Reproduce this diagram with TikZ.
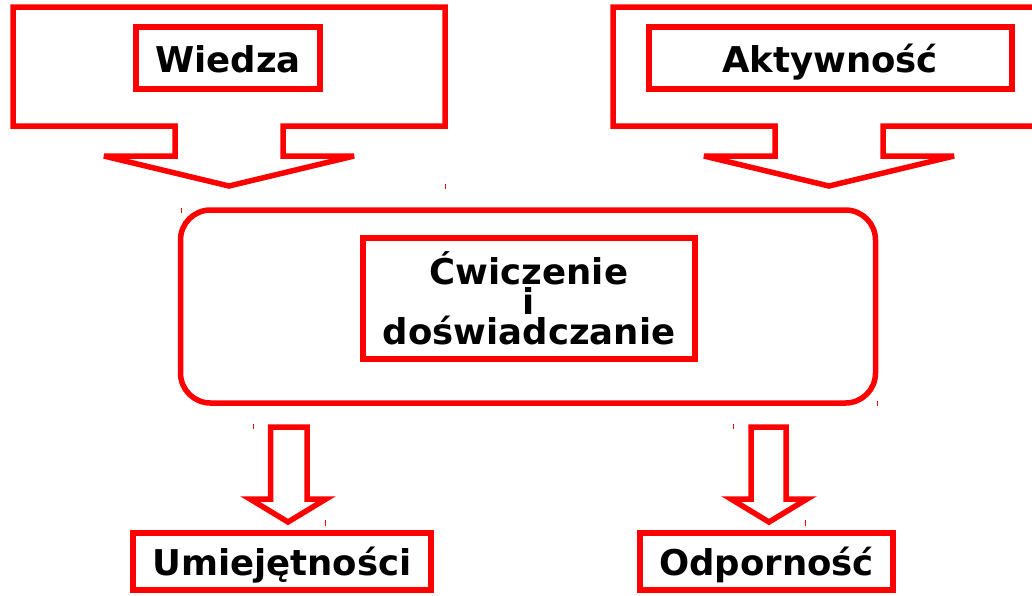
\documentclass[tikz,border=0pt]{standalone}
\usepackage{fontspec}
\setmainfont{DejaVu Sans}
\begin{document}
\begin{tikzpicture}[x=1pt,y=-1pt,
  red line/.style={draw=red, line width=5.5pt},
  box/.style={red line, rectangle, inner sep=0pt},
  lbl/.style={font=\bfseries\fontsize{35.5}{30}\selectfont, inner sep=0pt, text=black},
  tick/.style={draw=red, line width=1pt}]
\useasboundingbox (0,0) rectangle (1032,595);
\begin{scope}
\clip (0,0) rectangle (1032,595);
% top-left callout
\draw[red line, miter limit=5] (13,7) -- (445,7) -- (445,126) -- (283,126) -- (283,156) -- (354,156)
  -- (229,186) -- (104,156) -- (175,156) -- (175,126) -- (13,126) -- cycle;
% top-right callout (cut by the right edge)
\draw[red line, miter limit=5] (613,7) -- (1045,7) -- (1045,126) -- (883,126) -- (883,156) -- (954,156)
  -- (829,186) -- (704,156) -- (775,156) -- (775,126) -- (613,126) -- cycle;
\end{scope}

\node[box, minimum width=184pt, minimum height=62pt] (wiedzabox) at (228,58) {};
\node[lbl, anchor=base] (wiedza) at (228,72.5) {Wiedza};
\node[box, minimum width=363pt, minimum height=62pt] (aktbox) at (830.5,58) {};
\node[lbl, anchor=base] (akt) at (830,72.5) {Aktywność};

% central rounded box
\node[red line, rectangle, rounded corners=30pt, minimum width=695pt, minimum height=193pt, inner sep=0pt] (mid) at (528,306.5) {};
\node[box, minimum width=332pt, minimum height=121pt] (cwbox) at (529,298.5) {};
\node[lbl, align=center] (cw) at (529,298.5) {Ćwiczenie\\i\\doświadczanie};

% down arrows
\draw[red line, miter limit=5] (270.5,427) -- (307,427) -- (307,499) -- (326,499) -- (288,522)
  -- (250,499) -- (270.5,499) -- cycle;
\draw[red line, miter limit=5] (751,427) -- (786,427) -- (786,499) -- (807,499) -- (769,522)
  -- (731,499) -- (751,499) -- cycle;

% bottom boxes
\node[box, minimum width=298pt, minimum height=57pt] (umbox) at (282,561.5) {};
\node[lbl, anchor=base] (um) at (282,575) {Umiejętności};
\node[box, minimum width=253pt, minimum height=57pt] (odbox) at (766.5,561.5) {};
\node[lbl, anchor=base] (od) at (766.5,575) {Odporność};

% small ticks
\draw[tick] (445,183.5) -- (445,189);
\draw[tick] (181.5,208) -- (181.5,213);
\draw[tick] (253.5,424) -- (253.5,429);
\draw[tick] (325.5,520) -- (325.5,525.5);
\draw[tick] (733.5,424) -- (733.5,429);
\draw[tick] (805.5,520) -- (805.5,525.5);
\draw[tick] (877.5,401) -- (877.5,406);
\end{tikzpicture}
\end{document}
